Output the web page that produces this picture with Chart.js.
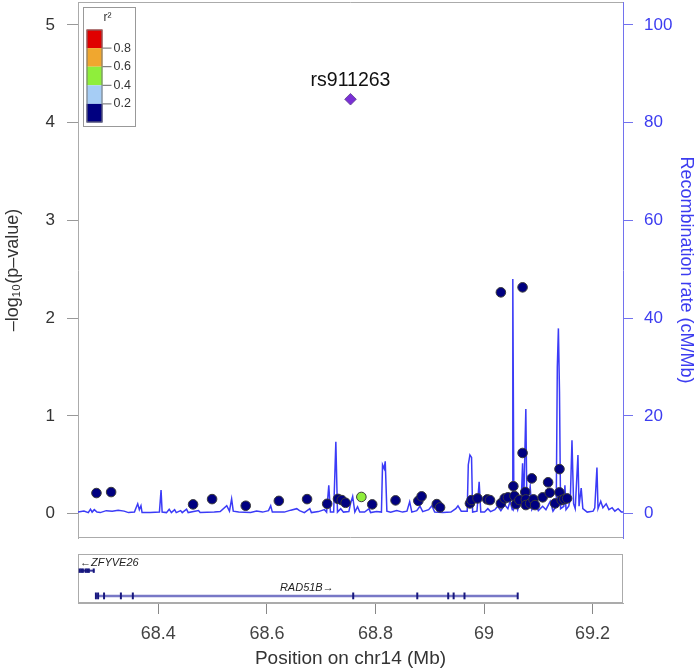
<!DOCTYPE html>
<html><head><meta charset="utf-8">
<script src="https://cdn.jsdelivr.net/npm/chart.js@4.4.0/dist/chart.umd.min.js"></script>
<style>
html,body{margin:0;padding:0;background:#fff;width:700px;height:669px;overflow:hidden}
#c1{position:absolute;left:0;top:0}
#c2{position:absolute;left:0;top:545px}
</style></head><body>
<canvas id="c1" width="700" height="545"></canvas>
<canvas id="c2" width="700" height="124"></canvas>
<script>
// ---------------- data ----------------
const xRange = [68.252, 69.256];
const pvalTicks = [0, 1, 2, 3, 4, 5];
const recombTicks = [0, 20, 40, 60, 80, 100];
const positionTicks = [68.4, 68.6, 68.8, 69.0, 69.2];
const positionTickLabels = ['68.4', '68.6', '68.8', '69', '69.2'];

const leadName = 'rs911263';
const leadPos = 68.754;
const leadLogP = 4.24;

const snpPos = [68.286, 68.313, 68.464, 68.499, 68.561, 68.622, 68.674, 68.711, 68.731, 68.738,
  68.745, 68.774, 68.794, 68.837, 68.879, 68.885, 68.913, 68.919, 68.974, 68.977,
  68.988, 69.006, 69.011, 69.031, 69.031, 69.038, 69.044, 69.054, 69.056, 69.059,
  69.065, 69.071, 69.071, 69.076, 69.077, 69.077, 69.085, 69.088, 69.091, 69.094,
  69.108, 69.118, 69.121, 69.131, 69.139, 69.139, 69.143, 69.148, 69.153];
const snpLogP = [0.21, 0.22, 0.094, 0.148, 0.08, 0.13, 0.148, 0.10, 0.15, 0.138,
  0.11, 0.17, 0.094, 0.135, 0.13, 0.176, 0.097, 0.063, 0.104, 0.138,
  0.155, 0.145, 0.138, 2.264, 0.104, 0.155, 0.166, 0.28, 0.18, 0.097,
  0.138, 2.315, 0.62, 0.22, 0.145, 0.087, 0.104, 0.36, 0.145, 0.087,
  0.166, 0.32, 0.213, 0.104, 0.455, 0.217, 0.138, 0.148, 0.155];
const snpR2 = [0.05, 0.05, 0.05, 0.05, 0.05, 0.05, 0.05, 0.05, 0.05, 0.05,
  0.05, 0.45, 0.05, 0.05, 0.05, 0.05, 0.05, 0.05, 0.05, 0.05,
  0.05, 0.05, 0.05, 0.05, 0.05, 0.05, 0.05, 0.05, 0.05, 0.05,
  0.05, 0.05, 0.05, 0.05, 0.05, 0.05, 0.05, 0.05, 0.05, 0.05,
  0.05, 0.05, 0.05, 0.05, 0.05, 0.05, 0.05, 0.05, 0.05];

const r2Breaks = [0.2, 0.4, 0.6, 0.8];
const r2Labels = ['0.2', '0.4', '0.6', '0.8'];
const r2Colors = ['#000080', '#A6CDF5', '#8FEE3B', '#F0A72F', '#E00000'];

const recombPos = [68.252, 68.263, 68.271, 68.275, 68.278, 68.282, 68.287, 68.293, 68.304, 68.315,
  68.326, 68.337, 68.345, 68.356, 68.359, 68.362, 68.365, 68.368, 68.370, 68.385,
  68.402, 68.405, 68.407, 68.415, 68.420, 68.424, 68.430, 68.433, 68.441, 68.444,
  68.452, 68.455, 68.474, 68.477, 68.503, 68.514, 68.526, 68.531, 68.535, 68.538,
  68.548, 68.570, 68.581, 68.592, 68.603, 68.607, 68.610, 68.632, 68.644, 68.655,
  68.660, 68.669, 68.679, 68.682, 68.695, 68.706, 68.710, 68.714, 68.717, 68.723,
  68.727, 68.730, 68.736, 68.741, 68.751, 68.754, 68.758, 68.762, 68.767, 68.771,
  68.780, 68.788, 68.791, 68.802, 68.811, 68.813, 68.816, 68.818, 68.821, 68.828,
  68.839, 68.850, 68.858, 68.863, 68.867, 68.876, 68.882, 68.887, 68.898, 68.904,
  68.909, 68.924, 68.939, 68.948, 68.952, 68.958, 68.969, 68.971, 68.974, 68.977,
  68.979, 68.987, 68.991, 68.994, 69.001, 69.007, 69.012, 69.020, 69.025, 69.031,
  69.038, 69.044, 69.048, 69.052, 69.053, 69.055, 69.059, 69.062, 69.069, 69.071,
  69.073, 69.077, 69.079, 69.082, 69.085, 69.088, 69.095, 69.100, 69.108, 69.114,
  69.122, 69.127, 69.133, 69.135, 69.137, 69.139, 69.141, 69.147, 69.149, 69.151,
  69.156, 69.159, 69.162, 69.165, 69.168, 69.173, 69.175, 69.179, 69.182, 69.190,
  69.201, 69.204, 69.208, 69.210, 69.215, 69.219, 69.225, 69.230, 69.236, 69.241,
  69.247, 69.253, 69.256];
const recombRate = [0.3, 0.5, 0.2, 0.9, 0.3, 0.8, 0.3, 0.2, 0.6, 0.5,
  0.7, 0.5, 0.2, 0.3, 1.2, 2.0, 0.8, 1.6, 0.2, 0.2,
  0.3, 4.8, 0.3, 0.2, 0.9, 0.2, 0.8, 0.2, 0.6, 0.2,
  0.9, 0.2, 0.6, 0.2, 0.3, 0.4, 1.6, 0.5, 3.0, 0.5,
  0.3, 0.2, 0.5, 0.3, 0.6, 1.6, 0.3, 0.3, 0.7, 1.0,
  0.6, 0.2, 1.0, 0.2, 0.4, 0.8, 0.3, 5.8, 0.3, 0.3,
  14.7, 0.3, 1.0, 0.3, 0.4, 2.0, 3.5, 0.3, 1.4, 0.3,
  0.3, 1.0, 0.2, 0.4, 0.3, 10.0, 9.2, 10.7, 0.5, 0.3,
  0.6, 0.3, 0.5, 2.4, 0.3, 0.6, 1.5, 0.4, 0.8, 1.6,
  0.3, 0.2, 0.3, 1.0, 1.6, 0.5, 0.5, 10.0, 12.0, 11.5,
  0.3, 0.5, 6.5, 0.3, 0.3, 1.0, 0.4, 0.8, 1.5, 0.6,
  1.8, 1.0, 2.5, 0.8, 48.0, 1.0, 2.0, 0.8, 4.0, 10.3,
  1.5, 21.4, 1.0, 3.0, 5.5, 0.8, 2.0, 0.6, 1.5, 0.8,
  2.5, 0.5, 1.5, 30.0, 37.9, 25.0, 1.0, 1.5, 5.8, 0.8,
  1.5, 3.0, 15.0, 2.0, 1.0, 12.0, 1.5, 5.2, 1.0, 0.3,
  0.5, 1.2, 9.4, 1.0, 2.5, 1.2, 2.0, 0.8, 1.2, 0.5,
  1.0, 0.3, 0.3];

const geneNames = ['ZFYVE26', 'RAD51B'];
const geneStrand = ['-', '+'];
const geneStart = [68.254, 68.285];
const geneEnd = [68.282, 69.062];
const geneRow = [6.6, 1.45];
const geneExons = [
  [68.255, 68.258, 68.261, 68.266, 68.269, 68.272, 68.281],
  [68.285, 68.289, 68.300, 68.331, 68.353, 68.759, 68.877, 68.934, 68.944, 68.964, 69.062]
];

// ---------------- styling ----------------
const FONT = "'Liberation Sans', Arial, Helvetica, sans-serif";
Chart.defaults.font.family = FONT;
const BOX = '#ababab';
const BLUE = '#3b3bf7';
const BLUE_TXT = '#3c3cf0';

function r2Color(r) {
  let k = 0;
  while (k < r2Breaks.length && r >= r2Breaks[k]) k++;
  return r2Colors[k];
}

const noVertPad = s => { s.paddingTop = 0; s.paddingBottom = 0; };

const boxPlugin = {
  id: 'box',
  beforeDatasetsDraw(chart) {
    const a = chart.chartArea, ctx = chart.ctx;
    ctx.save();
    ctx.strokeStyle = BOX; ctx.lineWidth = 1;
    ctx.beginPath();
    ctx.moveTo(a.left, a.top + 0.5); ctx.lineTo(a.right, a.top + 0.5);
    ctx.moveTo(a.left, a.bottom - 0.5); ctx.lineTo(a.right, a.bottom - 0.5);
    ctx.stroke();
    ctx.restore();
  }
};

const legendPlugin = {
  id: 'r2legend',
  afterDatasetsDraw(chart) {
    const a = chart.chartArea, ctx = chart.ctx;
    const bx = a.left + 5, by = a.top + 5, bw = 52, bh = 119;
    const cx = a.left + 8.5, cw = 16, ch = 18.6, c0 = a.top + 27.5;
    ctx.save();
    ctx.fillStyle = '#fff';
    ctx.fillRect(bx, by, bw, bh);
    ctx.strokeStyle = '#999'; ctx.lineWidth = 1;
    ctx.strokeRect(bx + 0.5, by + 0.5, bw, bh);
    for (let i = 0; i < r2Colors.length; i++) {
      const col = r2Colors[r2Colors.length - 1 - i];
      ctx.fillStyle = col;
      ctx.fillRect(cx, c0 + i * ch, cw, ch);
    }
    ctx.strokeStyle = '#777';
    ctx.strokeRect(cx + 0.5, c0 + 0.5, cw - 1, ch * 5 - 1);
    ctx.font = '12.5px ' + FONT;
    ctx.fillStyle = '#333';
    ctx.textBaseline = 'middle';
    ctx.textAlign = 'left';
    for (let i = 0; i < r2Breaks.length; i++) {
      const yy = c0 + (r2Breaks.length - i) * ch;
      ctx.beginPath();
      ctx.strokeStyle = '#666';
      ctx.moveTo(cx + cw, yy); ctx.lineTo(cx + cw + 9, yy);
      ctx.stroke();
      ctx.fillText(r2Labels[i], cx + cw + 11, yy);
    }
    ctx.textAlign = 'center';
    ctx.font = '12px ' + FONT;
    ctx.fillText('r²', cx + cw + 5, a.top + 16);
    ctx.restore();
  }
};

const leadLabelPlugin = {
  id: 'leadLabel',
  afterDatasetsDraw(chart) {
    const ctx = chart.ctx;
    const px = chart.scales.x.getPixelForValue(leadPos);
    const py = chart.scales.y.getPixelForValue(leadLogP);
    ctx.save();
    ctx.font = '19.5px ' + FONT;
    ctx.fillStyle = '#111';
    ctx.textAlign = 'center';
    ctx.textBaseline = 'middle';
    ctx.fillText(leadName, px, py - 19);
    ctx.restore();
  }
};

new Chart(document.getElementById('c1'), {
  data: {
    datasets: [
      {
        type: 'line', label: 'Recombination rate',
        data: recombPos.map((p, i) => ({ x: p, y: recombRate[i] })),
        yAxisID: 'y1', borderColor: BLUE, borderWidth: 1.5, pointRadius: 0,
        tension: 0, fill: false, order: 3
      },
      {
        type: 'scatter', label: 'SNPs',
        data: snpPos.map((p, i) => ({ x: p, y: snpLogP[i] })),
        yAxisID: 'y',
        backgroundColor: ctx => r2Color(snpR2[ctx.dataIndex]),
        borderColor: '#3a3a3a', borderWidth: 1, pointRadius: 4.8, order: 2
      },
      {
        type: 'scatter', label: leadName,
        data: [{ x: leadPos, y: leadLogP }],
        yAxisID: 'y', pointStyle: 'rectRot', pointRadius: 5.8,
        backgroundColor: '#7A2FD5', borderColor: '#5b3b8b', borderWidth: 0.8, order: 1
      }
    ]
  },
  options: {
    responsive: false, animation: false, events: [],
    layout: { autoPadding: false, padding: { top: 2, bottom: 7, left: 0, right: 0 } },
    plugins: { legend: { display: false }, tooltip: { enabled: false } },
    scales: {
      x: { type: 'linear', min: xRange[0], max: xRange[1], display: false },
      y: {
        type: 'linear', position: 'left', min: -0.25, max: 5.235,
        afterBuildTicks: ax => { ax.ticks = pvalTicks.map(v => ({ value: v })); },
        afterFit: s => { s.width = 78; noVertPad(s); },
        grid: { drawOnChartArea: false, drawTicks: true, tickLength: 11, color: '#999' },
        border: { display: true, color: BOX },
        ticks: { callback: v => String(v), font: { size: 17 }, color: '#333', padding: 12 },
        title: { display: true, text: '–log₁₀(p–value)', font: { size: 18 }, color: '#333', padding: { top: 2, bottom: 0 } }
      },
      y1: {
        type: 'linear', position: 'right', min: -5.0, max: 104.7,
        afterBuildTicks: ax => { ax.ticks = recombTicks.map(v => ({ value: v })); },
        afterFit: s => { s.width = 77; noVertPad(s); },
        grid: { drawOnChartArea: false, drawTicks: true, tickLength: 10, color: '#7272ee' },
        border: { display: true, color: '#7272ee' },
        ticks: { callback: v => String(v), font: { size: 17 }, color: BLUE_TXT, padding: 11 },
        title: { display: true, text: 'Recombination rate (cM/Mb)', font: { size: 18 }, color: BLUE_TXT, padding: { top: 3, bottom: 0 } }
      }
    }
  },
  plugins: [boxPlugin, legendPlugin, leadLabelPlugin]
});

// ---------------- gene track ----------------
const geneBoxPlugin = {
  id: 'geneBox',
  beforeDatasetsDraw(chart) {
    const a = chart.chartArea, ctx = chart.ctx;
    ctx.save();
    ctx.strokeStyle = BOX; ctx.lineWidth = 1;
    ctx.strokeRect(a.left + 0.5, a.top + 0.5, a.right - a.left - 1, a.bottom - a.top - 1);
    ctx.restore();
  }
};
const geneLabelPlugin = {
  id: 'geneLabel',
  afterDatasetsDraw(chart) {
    const a = chart.chartArea, ctx = chart.ctx, xs = chart.scales.x, ys = chart.scales.y;
    ctx.save();
    ctx.font = 'italic 11px ' + FONT;
    ctx.fillStyle = '#222';
    ctx.textBaseline = 'middle';
    ctx.textAlign = 'left';
    geneNames.forEach((g, i) => {
      const txt = geneStrand[i] === '+' ? g + '→' : '←' + g;
      const w = ctx.measureText(txt).width;
      const mid = xs.getPixelForValue((geneStart[i] + geneEnd[i]) / 2);
      let left = mid - w / 2;
      if (left < a.left + 2) left = a.left + 2;
      ctx.fillText(txt, left, ys.getPixelForValue(geneRow[i] + 1.6));
    });
    ctx.restore();
  }
};

const geneDatasets = [];
geneNames.forEach((g, i) => {
  geneDatasets.push({
    type: 'line', label: g,
    data: [{ x: geneStart[i], y: geneRow[i] }, { x: geneEnd[i], y: geneRow[i] }],
    borderColor: i === 0 ? '#3a3a9a' : '#7878c6', borderWidth: i === 0 ? 2 : 2.5,
    pointRadius: 0, order: 2
  });
  geneDatasets.push({
    type: 'scatter', label: g + ' exons',
    data: geneExons[i].map(p => ({ x: p, y: geneRow[i] })),
    pointStyle: 'line', rotation: 90, pointRadius: i === 0 ? 2.2 : 3.4,
    borderColor: '#17177e', borderWidth: 2, order: 1
  });
});

new Chart(document.getElementById('c2'), {
  data: { datasets: geneDatasets },
  options: {
    responsive: false, animation: false, events: [],
    layout: { padding: { top: 9, bottom: 0, left: 78, right: 77 } },
    plugins: { legend: { display: false }, tooltip: { enabled: false } },
    scales: {
      x: {
        type: 'linear', position: 'bottom', min: xRange[0], max: xRange[1],
        afterBuildTicks: ax => { ax.ticks = positionTicks.map(v => ({ value: v })); },
        afterFit: s => { s.height = 66; s.paddingLeft = 0; s.paddingRight = 0; },
        grid: { drawOnChartArea: false, drawTicks: true, tickLength: 11, color: '#888' },
        border: { display: true, color: BOX },
        ticks: { callback: (v, i) => positionTickLabels[i], font: { size: 18 }, color: '#444', padding: 9, maxRotation: 0, autoSkip: false },
        title: { display: true, text: 'Position on chr14 (Mb)', font: { size: 19, lineHeight: 1.1 }, color: '#333', padding: { top: 0, bottom: 0 } }
      },
      y: { display: false, min: 0, max: 10 }
    }
  },
  plugins: [geneBoxPlugin, geneLabelPlugin]
});
</script>
</body></html>
